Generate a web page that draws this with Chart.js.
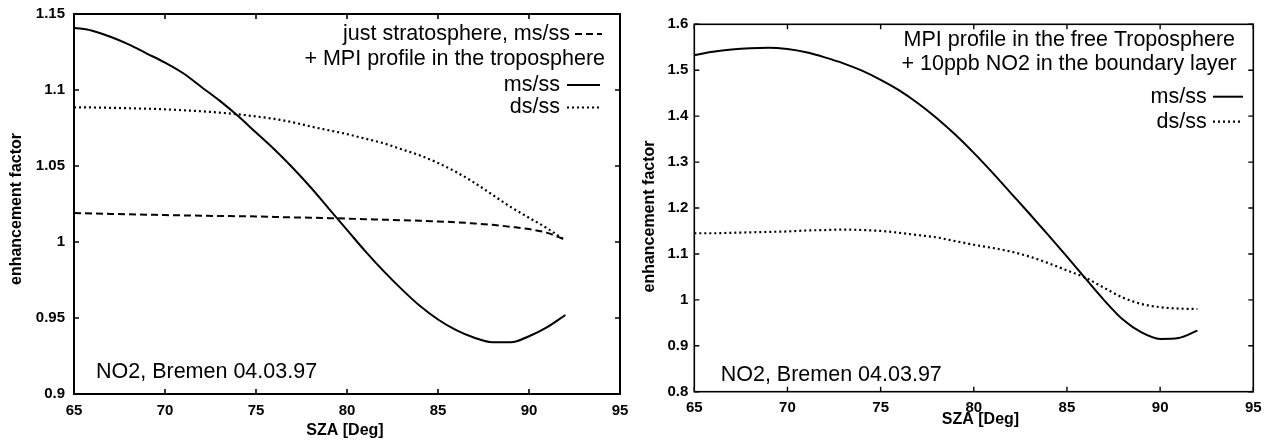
<!DOCTYPE html>
<html><head><meta charset="utf-8">
<script src="https://cdn.jsdelivr.net/npm/chart.js@4.4.1/dist/chart.umd.min.js"></script>
<style>
html,body{margin:0;padding:0;background:#fff;}
#wrap{position:relative;width:1270px;height:441px;overflow:hidden;background:#fff;}
canvas{position:absolute;top:0;}
#c1{left:0;} #c2{left:630px;}
</style></head><body>
<div id="wrap"><canvas id="c1" width="630" height="441"></canvas><canvas id="c2" width="640" height="441"></canvas></div>
<script>
// ---- data ----
const sza = [65,66,67,68,69,70,71,72,73,74,75,76,77,78,79,80,81,82,83,84,85,86,87,88,89,90,91,92];
// left panel
const leftStratMs = [1.019,1.0188,1.0185,1.0182,1.018,1.0177,1.0175,1.0173,1.0171,1.017,1.0168,1.0165,1.0162,1.016,1.0157,1.0154,1.015,1.0147,1.0143,1.014,1.0135,1.013,1.0122,1.0113,1.010,1.0085,1.006,1.0015];
const leftTropMs = [1.141,1.139,1.135,1.130,1.124,1.118,1.111,1.102,1.093,1.083,1.072,1.061,1.049,1.036,1.022,1.008,0.994,0.981,0.969,0.958,0.949,0.942,0.937,0.934,0.934,0.938,0.944,0.952];
const leftTropDs = [1.0886,1.0885,1.0883,1.088,1.0877,1.0873,1.0867,1.086,1.0851,1.084,1.0826,1.081,1.0788,1.076,1.0735,1.071,1.068,1.065,1.061,1.057,1.052,1.046,1.039,1.031,1.023,1.016,1.009,1.001];
// right panel
const rightMs = [1.533,1.540,1.545,1.548,1.549,1.546,1.539,1.528,1.515,1.499,1.479,1.456,1.428,1.396,1.360,1.320,1.277,1.232,1.187,1.141,1.094,1.046,0.999,0.957,0.929,0.915,0.917,0.933];
const rightDs = [1.145,1.145,1.146,1.147,1.148,1.149,1.151,1.152,1.153,1.152,1.150,1.146,1.141,1.136,1.128,1.120,1.113,1.105,1.094,1.080,1.064,1.048,1.026,1.005,0.991,0.984,0.981,0.980];
// ticks and texts
const xTicks = [65,70,75,80,85,90,95];
const leftYTicks = [0.9,0.95,1,1.05,1.1,1.15];
const rightYTicks = [0.8,0.9,1,1.1,1.2,1.3,1.4,1.5,1.6];
const xTitle = 'SZA [Deg]';
const yTitle = 'enhancement factor';
const noteText = 'NO2, Bremen 04.03.97';
const leftKey = ['just stratosphere, ms/ss', '+ MPI profile in the troposphere', 'ms/ss', 'ds/ss'];
const rightKey = ['MPI profile in the free Troposphere', '+ 10ppb NO2 in the boundary layer', 'ms/ss', 'ds/ss'];

// ---- styles ----
const FONT = "'Liberation Sans', Arial, Helvetica, sans-serif";
const DASHED = [7,4];
const DOTTED = [2,3];
const toXY = ys => sza.map((x,i) => ({x:x, y:ys[i]}));

function ds(label, ys, dash, w) {
  return {label, data: toXY(ys), borderColor:'#000', backgroundColor:'#000', borderWidth:w,
    borderDash:dash, pointRadius:0, cubicInterpolationMode:'monotone', fill:false};
}

function zeroPad(s) { s.paddingLeft = 0; s.paddingRight = 0; s.paddingTop = 0; s.paddingBottom = 0; }

function decorPlugin(cfg) {
  return {
    id: 'decor',
    afterDatasetsDraw(chart) {
      const {ctx, chartArea: a, scales: {x, y}} = chart;
      ctx.save();
      ctx.strokeStyle = '#000';
      ctx.setLineDash([]);
      ctx.lineWidth = cfg.frameWidth;
      ctx.strokeRect(a.left, a.top, a.right - a.left, a.bottom - a.top);
      ctx.lineWidth = cfg.tickWidth;
      const L = 5;
      ctx.beginPath();
      x.ticks.forEach(t => {
        const p = x.getPixelForValue(t.value);
        ctx.moveTo(p, a.bottom); ctx.lineTo(p, a.bottom - L);
        ctx.moveTo(p, a.top); ctx.lineTo(p, a.top + L);
      });
      y.ticks.forEach(t => {
        const p = y.getPixelForValue(t.value);
        ctx.moveTo(a.left, p); ctx.lineTo(a.left + L, p);
        ctx.moveTo(a.right, p); ctx.lineTo(a.right - L, p);
      });
      ctx.stroke();
      ctx.fillStyle = '#000';
      // axis titles
      ctx.font = "bold 16px " + FONT;
      ctx.textAlign = 'center';
      ctx.textBaseline = 'middle';
      ctx.fillText(xTitle, cfg.xTitle.x, cfg.xTitle.y);
      ctx.save();
      ctx.translate(cfg.yTitle.x, cfg.yTitle.y);
      ctx.rotate(-Math.PI / 2);
      ctx.fillText(yTitle, 0, 0);
      ctx.restore();
      // key
      ctx.font = cfg.keyFont;
      ctx.textAlign = 'right';
      ctx.textBaseline = 'middle';
      cfg.key.forEach(k => {
        ctx.fillText(k.text, k.right, k.y);
        if (k.sample) {
          ctx.lineWidth = k.sample.w;
          ctx.setLineDash(k.sample.dash);
          ctx.beginPath();
          ctx.moveTo(k.sample.x0, k.y); ctx.lineTo(k.sample.x1, k.y);
          ctx.stroke();
          ctx.setLineDash([]);
        }
      });
      // note
      ctx.textAlign = 'left';
      ctx.textBaseline = 'alphabetic';
      ctx.fillText(cfg.note.text, cfg.note.x, cfg.note.y);
      ctx.restore();
    }
  };
}

function makeChart(id, datasets, yTicks, geo, deco) {
  return new Chart(document.getElementById(id), {
    type: 'line',
    data: {datasets},
    options: {
      responsive: false, animation: false, devicePixelRatio: 1,
      layout: {padding: {top: geo.top, right: geo.right, left: 0, bottom: 0}},
      plugins: {legend: {display: false}, tooltip: {enabled: false}},
      scales: {
        x: {
          type: 'linear', min: 65, max: 95,
          afterBuildTicks: s => { s.ticks = xTicks.map(v => ({value: v})); },
          afterFit: s => { s.height = geo.xh; zeroPad(s); },
          grid: {display: false, drawTicks: false, tickLength: 0},
          border: {display: false},
          ticks: {color: '#000', padding: geo.xpad, maxRotation: 0, font: {family: FONT, size: 15, weight: 'bold'}, callback: v => String(v)},
          title: {display: false, text: xTitle}
        },
        y: {
          type: 'linear', min: yTicks[0], max: yTicks[yTicks.length - 1],
          afterBuildTicks: s => { s.ticks = yTicks.map(v => ({value: v})); },
          afterFit: s => { s.width = geo.yw; zeroPad(s); },
          grid: {display: false, drawTicks: false, tickLength: 0},
          border: {display: false},
          ticks: {color: '#000', padding: geo.ypad, font: {family: FONT, size: 15, weight: 'bold'}, callback: v => String(v)},
          title: {display: false, text: yTitle}
        }
      }
    },
    plugins: [decorPlugin(deco)]
  });
}

const KEYFONT = "21.5px " + FONT;

makeChart('c1', [
    ds(leftKey[0], leftStratMs, DASHED, 2),
    ds(leftKey[2], leftTropMs, [], 2),
    ds(leftKey[3], leftTropDs, DOTTED, 2.2)
  ], leftYTicks,
  {top: 14, right: 10, yw: 74, xh: 47, xpad: 8, ypad: 9},
  {frameWidth: 2, tickWidth: 1.6, keyFont: KEYFONT,
   xTitle: {x: 345, y: 430.5}, yTitle: {x: 17, y: 209},
   key: [
     {text: leftKey[0], right: 570, y: 34, sample: {x0: 575, x1: 602, dash: DASHED, w: 2}},
     {text: leftKey[1], right: 605, y: 59},
     {text: leftKey[2], right: 560, y: 85, sample: {x0: 567, x1: 600, dash: [], w: 2}},
     {text: leftKey[3], right: 560, y: 107.5, sample: {x0: 567, x1: 600, dash: DOTTED, w: 2.2}}
   ],
   note: {text: noteText, x: 96, y: 378}});

makeChart('c2', [
    ds(rightKey[2], rightMs, [], 2),
    ds(rightKey[3], rightDs, DOTTED, 2.2)
  ], rightYTicks,
  {top: 24.3, right: 16.7, yw: 64.3, xh: 49.3, xpad: 7, ypad: 6},
  {frameWidth: 1.6, tickWidth: 1.4, keyFont: KEYFONT,
   xTitle: {x: 350.5, y: 419.5}, yTitle: {x: 20, y: 216.5},
   key: [
     {text: rightKey[0], right: 605, y: 40},
     {text: rightKey[1], right: 606.7, y: 64},
     {text: rightKey[2], right: 576.7, y: 96.7, sample: {x0: 583, x1: 613, dash: [], w: 2}},
     {text: rightKey[3], right: 576.7, y: 121.7, sample: {x0: 583, x1: 613, dash: DOTTED, w: 2.2}}
   ],
   note: {text: noteText, x: 90.7, y: 381}});
</script>
</body></html>
